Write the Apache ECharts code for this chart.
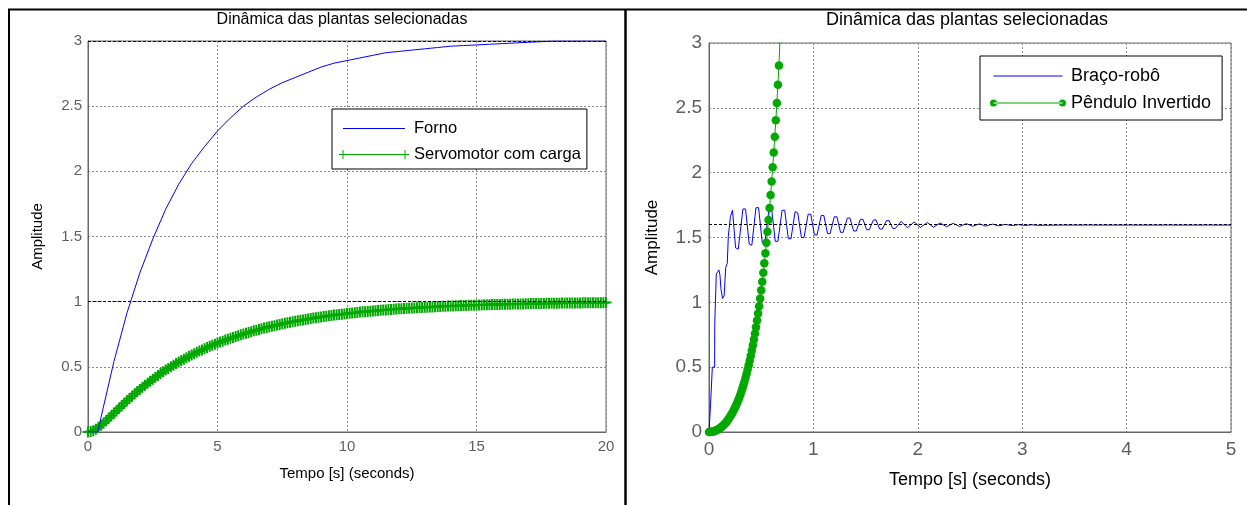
<!DOCTYPE html>
<html>
<head>
<meta charset="utf-8">
<script src="https://cdn.jsdelivr.net/npm/echarts@6/dist/echarts.min.js"></script>
<style>
  html, body { margin: 0; padding: 0; background: #fff; }
  #chart { width: 1247px; height: 505px; }
</style>
</head>
<body>
<div id="chart"></div>
<script>
const FONT = '"Liberation Sans", Arial, Helvetica, sans-serif';

// ---- Left panel: Forno / Servomotor com carga (0–20 s) ----
const leftXTicks = [0, 5, 10, 15, 20];
const leftYTicks = [0, 0.5, 1, 1.5, 2, 2.5, 3];

const fornoT = [0, 0.38, 0.5, 1, 1.5, 2, 2.5, 3, 3.5, 4, 4.5, 5, 5.5, 6, 6.5, 7, 7.5, 8, 8.5, 9, 9.5,
  10, 10.5, 11, 11.5, 12, 12.5, 13, 13.5, 14, 14.5, 15, 15.5, 16, 16.5, 17, 17.5, 18, 20];
const fornoV = [0, 0, 0.11, 0.54, 0.91, 1.22, 1.48, 1.71, 1.90, 2.06, 2.19, 2.31, 2.41, 2.50, 2.57, 2.63, 2.68, 2.72, 2.76, 2.80, 2.83,
  2.85, 2.87, 2.89, 2.91, 2.92, 2.93, 2.94, 2.95, 2.96, 2.965, 2.97, 2.975, 2.98, 2.985, 2.99, 2.995, 3, 3];
const fornoFinal = 3;

// sampled every 0.1 s
const servoDt = 0.1;
const servoV = [0, 0.003, 0.010, 0.022, 0.036, 0.051, 0.068, 0.087, 0.105, 0.124,
  0.144, 0.163, 0.182, 0.201, 0.220, 0.239, 0.257, 0.275, 0.293, 0.310,
  0.327, 0.343, 0.359, 0.375, 0.390, 0.405, 0.420, 0.434, 0.448, 0.462,
  0.475, 0.488, 0.501, 0.513, 0.525, 0.537, 0.548, 0.559, 0.570, 0.581,
  0.591, 0.601, 0.611, 0.621, 0.630, 0.639, 0.648, 0.657, 0.665, 0.674,
  0.682, 0.690, 0.697, 0.705, 0.712, 0.719, 0.726, 0.733, 0.739, 0.746,
  0.752, 0.758, 0.764, 0.770, 0.776, 0.781, 0.787, 0.792, 0.797, 0.802,
  0.807, 0.812, 0.816, 0.821, 0.825, 0.830, 0.834, 0.838, 0.842, 0.846,
  0.850, 0.853, 0.857, 0.860, 0.864, 0.867, 0.871, 0.874, 0.877, 0.880,
  0.883, 0.886, 0.889, 0.891, 0.894, 0.897, 0.899, 0.902, 0.904, 0.906,
  0.909, 0.911, 0.913, 0.915, 0.917, 0.920, 0.922, 0.923, 0.925, 0.927,
  0.929, 0.931, 0.932, 0.934, 0.936, 0.937, 0.939, 0.940, 0.942, 0.943,
  0.945, 0.946, 0.947, 0.949, 0.950, 0.951, 0.952, 0.954, 0.955, 0.956,
  0.957, 0.958, 0.959, 0.960, 0.961, 0.962, 0.963, 0.964, 0.965, 0.966,
  0.966, 0.967, 0.968, 0.969, 0.970, 0.970, 0.971, 0.972, 0.973, 0.973,
  0.974, 0.975, 0.975, 0.976, 0.976, 0.977, 0.978, 0.978, 0.979, 0.979,
  0.980, 0.980, 0.981, 0.981, 0.982, 0.982, 0.982, 0.983, 0.983, 0.984,
  0.984, 0.985, 0.985, 0.985, 0.986, 0.986, 0.986, 0.987, 0.987, 0.987,
  0.988, 0.988, 0.988, 0.989, 0.989, 0.989, 0.989, 0.990, 0.990, 0.990,
  0.990, 0.991, 0.991, 0.991, 0.991, 0.992, 0.992, 0.992, 0.992, 0.992, 0.993];
const servoFinal = 1;

// ---- Right panel: Braço-robô / Pêndulo Invertido (0–5 s) ----
const rightXTicks = [0, 1, 2, 3, 4, 5];
const rightYTicks = [0, 0.5, 1, 1.5, 2, 2.5, 3];

const bracoT = [0, 0.015, 0.016, 0.031, 0.032, 0.054, 0.055, 0.069, 0.07, 0.095, 0.105, 0.115, 0.13, 0.145,
  0.16, 0.175, 0.185,
  0.205, 0.225, 0.255, 0.28,
  0.325, 0.35, 0.385, 0.41,
  0.45, 0.475, 0.51, 0.535,
  0.575, 0.6, 0.635, 0.66,
  0.7, 0.725, 0.76, 0.785,
  0.825, 0.85, 0.885, 0.91,
  0.95, 0.975, 1.01, 1.035,
  1.075, 1.1, 1.135, 1.16,
  1.2, 1.225, 1.26, 1.285,
  1.325, 1.35, 1.385, 1.41,
  1.45, 1.475, 1.51, 1.535,
  1.575, 1.6, 1.635, 1.66,
  1.7, 1.725, 1.76, 1.785,
  1.84, 1.9, 1.965, 2.025, 2.09, 2.15, 2.215, 2.275, 2.34, 2.4, 2.465, 2.525, 2.59, 2.65,
  2.715, 2.775, 2.84, 2.9, 2.965, 3.025, 3.09, 3.15, 3.4, 5];
const bracoV = [0, 0, 0.23, 0.23, 0.50, 0.50, 0.83, 0.83, 1.22, 1.25, 1.21, 1.10, 1.03, 1.05,
  1.27, 1.30, 1.51,
  1.66, 1.71, 1.42, 1.41,
  1.72, 1.72, 1.45, 1.44,
  1.73, 1.73, 1.46, 1.46,
  1.72, 1.72, 1.47, 1.47,
  1.71, 1.71, 1.49, 1.49,
  1.70, 1.69, 1.50, 1.50,
  1.68, 1.68, 1.52, 1.52,
  1.67, 1.67, 1.53, 1.53,
  1.66, 1.66, 1.54, 1.54,
  1.65, 1.65, 1.55, 1.55,
  1.64, 1.64, 1.56, 1.56,
  1.635, 1.635, 1.565, 1.565,
  1.63, 1.63, 1.57, 1.57,
  1.625, 1.575, 1.62, 1.578, 1.615, 1.58, 1.612, 1.583, 1.61, 1.585, 1.607, 1.587, 1.605, 1.588,
  1.603, 1.59, 1.601, 1.592, 1.599, 1.593, 1.598, 1.594, 1.596, 1.596];
const bracoFinal = 1.6;

// sampled every 0.01 s
const penduloDt = 0.01;
const penduloV = [0, 0.0003, 0.0011, 0.0024, 0.0043, 0.0067, 0.0097, 0.0132, 0.0173, 0.0219,
  0.0272, 0.0330, 0.0395, 0.0466, 0.0544, 0.0628, 0.0719, 0.0817, 0.0922, 0.1036,
  0.1157, 0.1286, 0.1424, 0.1571, 0.1727, 0.1892, 0.2068, 0.2254, 0.2452, 0.2660,
  0.2881, 0.3114, 0.3360, 0.3620, 0.3894, 0.4184, 0.4489, 0.4811, 0.5150, 0.5507,
  0.5883, 0.6280, 0.6697, 0.7137, 0.7600, 0.8087, 0.8599, 0.9139, 0.9706, 1.0303,
  1.0932, 1.1593, 1.2288, 1.3019, 1.3789, 1.4598, 1.5449, 1.6343, 1.7284, 1.8274,
  1.9314, 2.0409, 2.1559, 2.2769, 2.4040, 2.5378, 2.6784, 2.8263, 3.03, 3.145];

// ---- styling ----
const BLUE = '#0000ff';
const GREEN = '#00a800';
const AXIS_GREY = '#666666';
const LABEL_GREY = '#5f5f5f';
const GRID_GREY = '#8a8a8a';

// legend glyphs (degenerate sub-paths pin the bounding box)
const ICON_FORNO = 'path://M0,0 L0,0 L0,0 Z M70,9 L70,9 L70,9 Z M4,4 L66,4 L66,5 L4,5 Z';
const ICON_SERVO = 'path://M0,0 L0,0 L0,0 Z M70,9 L70,9 L70,9 Z M4,4 L66,4 L66,5 L4,5 Z ' +
  'M0,4 L8,4 L8,5 L0,5 Z M3.5,0 L4.5,0 L4.5,9 L3.5,9 Z M62,4 L70,4 L70,5 L62,5 Z M65.5,0 L66.5,0 L66.5,9 L65.5,9 Z';
const ICON_BRACO = 'path://M0,0 L0,0 L0,0 Z M76,7 L76,7 L76,7 Z M3.5,3 L72.5,3 L72.5,4 L3.5,4 Z';
const ICON_PEND = 'path://M0,0 L0,0 L0,0 Z M76,7 L76,7 L76,7 Z M3.5,3 L72.5,3 L72.5,4 L3.5,4 Z ' +
  'M0,3.5 A3.5,3.5 0 1,0 7,3.5 A3.5,3.5 0 1,0 0,3.5 Z M69,3.5 A3.5,3.5 0 1,0 76,3.5 A3.5,3.5 0 1,0 69,3.5 Z';
// plus marker, 11 x 11 with 2 px arms
const PLUS = 'path://M0,4.5 L11,4.5 L11,6.5 L0,6.5 Z M4.5,0 L6.5,0 L6.5,11 L4.5,11 Z';

function valueAxis(ticks, fontSize, margin, extra) {
  return Object.assign({
    type: 'value',
    min: ticks[0],
    max: ticks[ticks.length - 1],
    interval: ticks[1] - ticks[0],
    axisLine: { show: true, onZero: false, lineStyle: { color: AXIS_GREY, width: 1 } },
    axisTick: { show: false },
    axisLabel: { color: LABEL_GREY, fontSize: fontSize, fontFamily: FONT, margin: margin },
    splitLine: { show: true, lineStyle: { color: GRID_GREY, width: 1, type: [2, 2] } },
    nameLocation: 'middle',
    nameTextStyle: { color: '#000', fontFamily: FONT }
  }, extra);
}

function steadyLine(v) {
  return {
    silent: true, animation: false, symbol: 'none',
    label: { show: false },
    lineStyle: { color: '#000', type: [3, 2], width: 1 },
    data: [{ yAxis: v }]
  };
}

const chart = echarts.init(document.getElementById('chart'), null, { renderer: 'canvas' });

chart.setOption({
  animation: false,
  backgroundColor: '#fff',
  grid: [
    { left: 88, top: 41, width: 518, height: 391, show: true, borderColor: AXIS_GREY, borderWidth: 1, backgroundColor: '#fff' },
    { left: 709, top: 43, width: 522, height: 389, show: true, borderColor: AXIS_GREY, borderWidth: 1, backgroundColor: '#fff' }
  ],
  xAxis: [
    valueAxis(leftXTicks, 15, 7, { gridIndex: 0, name: 'Tempo [s] (seconds)', nameGap: 34,
      nameTextStyle: { color: '#000', fontFamily: FONT, fontSize: 15 } }),
    valueAxis(rightXTicks, 19, 8, { gridIndex: 1, name: 'Tempo [s] (seconds)', nameGap: 39,
      nameTextStyle: { color: '#000', fontFamily: FONT, fontSize: 18 } })
  ],
  yAxis: [
    valueAxis(leftYTicks, 15, 6, { gridIndex: 0, name: 'Amplitude', nameGap: 43,
      nameTextStyle: { color: '#000', fontFamily: FONT, fontSize: 15 } }),
    valueAxis(rightYTicks, 19, 7, { gridIndex: 1, name: 'Amplitude', nameGap: 48,
      nameTextStyle: { color: '#000', fontFamily: FONT, fontSize: 17 } })
  ],
  legend: [
    {
      data: [{ name: 'Forno', icon: ICON_FORNO }, { name: 'Servomotor com carga', icon: ICON_SERVO }],
      orient: 'vertical', left: 332, top: 109,
      itemWidth: 70, itemHeight: 9, itemGap: 9,
      padding: [11, 6, 6, 7],
      borderColor: '#000', borderWidth: 1, backgroundColor: '#fff',
      itemStyle: { borderWidth: 0 },
      textStyle: { fontSize: 16.5, color: '#000', fontFamily: FONT },
      selectedMode: false
    },
    {
      data: [{ name: 'Braço-robô', icon: ICON_BRACO }, { name: 'Pêndulo Invertido', icon: ICON_PEND }],
      orient: 'vertical', left: 980, top: 56,
      itemWidth: 76, itemHeight: 7, itemGap: 9,
      padding: [11, 11, 8, 10],
      borderColor: '#000', borderWidth: 1, backgroundColor: '#fff',
      itemStyle: { borderWidth: 0 },
      textStyle: { fontSize: 18, color: '#000', fontFamily: FONT },
      selectedMode: false
    }
  ],
  graphic: [
    { type: 'line', shape: { x1: 8, y1: 9.5, x2: 1247, y2: 9.5 }, style: { stroke: '#000', lineWidth: 2 }, z: 100 },
    { type: 'line', shape: { x1: 9, y1: 9, x2: 9, y2: 505 }, style: { stroke: '#000', lineWidth: 2 }, z: 100 },
    { type: 'line', shape: { x1: 625.5, y1: 9, x2: 625.5, y2: 505 }, style: { stroke: '#000', lineWidth: 2.5 }, z: 100 },
    { type: 'text', x: 342, y: 20, z: 100,
      style: { text: 'Dinâmica das plantas selecionadas', fill: '#000', fontSize: 16, fontFamily: FONT, align: 'center', verticalAlign: 'middle' } },
    { type: 'text', x: 967, y: 20, z: 100,
      style: { text: 'Dinâmica das plantas selecionadas', fill: '#000', fontSize: 18, fontFamily: FONT, align: 'center', verticalAlign: 'middle' } }
  ],
  series: [
    {
      name: 'Forno', type: 'line', xAxisIndex: 0, yAxisIndex: 0,
      data: fornoT.map((t, i) => [t, fornoV[i]]),
      showSymbol: false, symbol: 'none', clip: true, z: 3,
      lineStyle: { color: BLUE, width: 1 }, itemStyle: { color: BLUE },
      markLine: steadyLine(fornoFinal)
    },
    {
      name: 'Servomotor com carga', type: 'line', xAxisIndex: 0, yAxisIndex: 0,
      data: servoV.map((v, i) => [i * servoDt, v]),
      symbol: PLUS, symbolSize: 11, showSymbol: true, clip: true, z: 2,
      lineStyle: { color: GREEN, width: 1 }, itemStyle: { color: GREEN, borderWidth: 0 },
      markLine: steadyLine(servoFinal)
    },
    {
      name: 'Braço-robô', type: 'line', xAxisIndex: 1, yAxisIndex: 1,
      data: bracoT.map((t, i) => [t, bracoV[i]]),
      showSymbol: false, symbol: 'none', clip: true, z: 2,
      lineStyle: { color: BLUE, width: 1 }, itemStyle: { color: BLUE },
      markLine: steadyLine(bracoFinal)
    },
    {
      name: 'Pêndulo Invertido', type: 'line', xAxisIndex: 1, yAxisIndex: 1,
      data: penduloV.map((v, i) => [i * penduloDt, v]),
      symbol: 'circle', symbolSize: 8.5, showSymbol: true, clip: true, z: 3,
      lineStyle: { color: GREEN, width: 1 }, itemStyle: { color: GREEN, borderWidth: 0 }
    }
  ]
});
</script>
</body>
</html>
